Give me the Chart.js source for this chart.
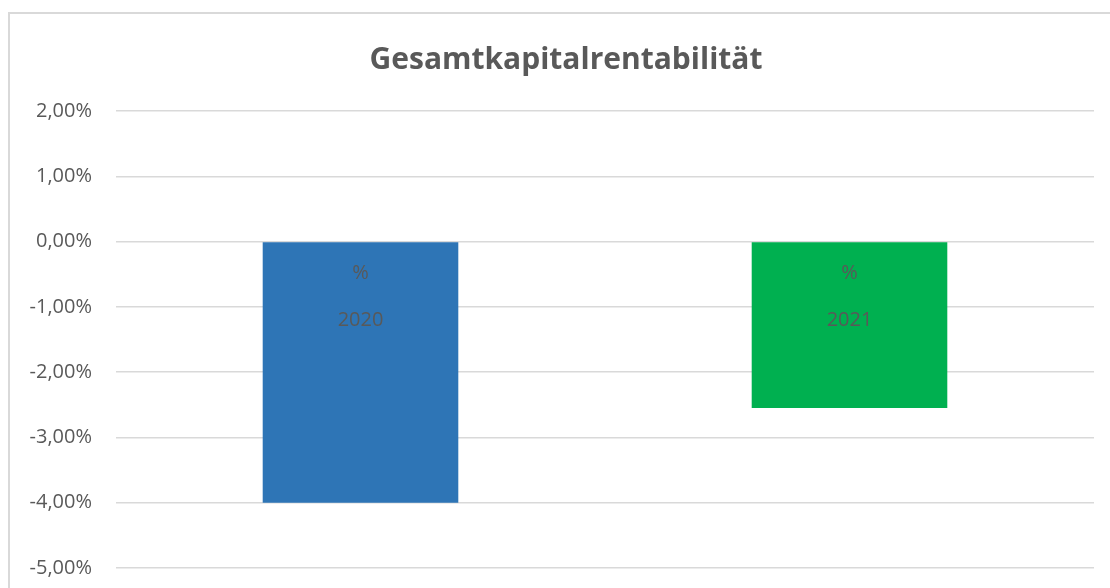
<!DOCTYPE html>
<html>
<head>
<meta charset="utf-8">
<style>
  html, body { margin: 0; padding: 0; background: #fff; overflow: hidden; }
  #frame {
    position: absolute; left: 8px; top: 12px;
    width: 1140px; height: 620px;
    border: 2px solid #d9d9d9; box-sizing: border-box;
  }
  #myChart { position: absolute; left: 0; top: 0; }
</style>
<script src="https://cdn.jsdelivr.net/npm/chart.js@4"></script>
</head>
<body>
<div id="frame"></div>
<canvas id="myChart" width="1110" height="588"></canvas>
<script>
const categories = ['2020', '2021'];
const values = [-4.00, -2.55];
const barColors = ['#2E75B6', '#00B050'];
const tickValues = [2, 1, 0, -1, -2, -3, -4, -5];
const chartTitle = 'Gesamtkapitalrentabilität';

// Titel wie in Excel über dem ganzen Diagrammrahmen zentrieren
const titleShift = {
  id: 'titleShift',
  afterLayout(chart) {
    chart.titleBlock.left = 22;
    chart.titleBlock.right = 1110;
  }
};

// Beschriftung in den Balken: "%" und Jahr
const barLabels = {
  id: 'barLabels',
  afterDatasetsDraw(chart) {
    const ctx = chart.ctx;
    const meta = chart.getDatasetMeta(0);
    const zeroY = chart.scales.y.getPixelForValue(0);
    ctx.save();
    ctx.fillStyle = '#595959';
    ctx.textAlign = 'center';
    ctx.textBaseline = 'middle';
    ctx.font = '20px "Open Sans"';
    meta.data.forEach((bar, i) => {
      ctx.fillText('%', bar.x, zeroY + 32);
      ctx.fillText(categories[i], bar.x, zeroY + 79);
    });
    ctx.restore();
  }
};

const ctx = document.getElementById('myChart');
new Chart(ctx, {
  type: 'bar',
  data: {
    labels: categories,
    datasets: [{
      data: values,
      backgroundColor: barColors,
      borderWidth: 0,
      barPercentage: 0.4,
      categoryPercentage: 1.0
    }]
  },
  options: {
    responsive: false,
    animation: false,
    layout: { padding: { left: 12, right: 16, top: 0, bottom: 20 } },
    plugins: {
      legend: { display: false },
      tooltip: { enabled: false },
      title: {
        display: true,
        text: chartTitle,
        color: '#595959',
        font: { family: 'Open Sans', size: 30, weight: 'bold' },
        padding: { top: 42, bottom: 33 }
      }
    },
    scales: {
      x: { display: false },
      y: {
        min: -5,
        max: 2,
        afterBuildTicks: axis => { axis.ticks = tickValues.map(v => ({ value: v })); },
        afterFit: axis => {
          axis.width = 104;
          axis.paddingTop = 0;
          axis.paddingBottom = 0;
        },
        border: { display: false },
        grid: { color: '#d9d9d9', lineWidth: 1.5, drawTicks: false },
        ticks: {
          color: '#595959',
          padding: 24,
          font: { family: 'Open Sans', size: 20 },
          callback: v => v.toFixed(2).replace('.', ',') + '%'
        }
      }
    }
  },
  plugins: [titleShift, barLabels]
});
</script>
</body>
</html>
